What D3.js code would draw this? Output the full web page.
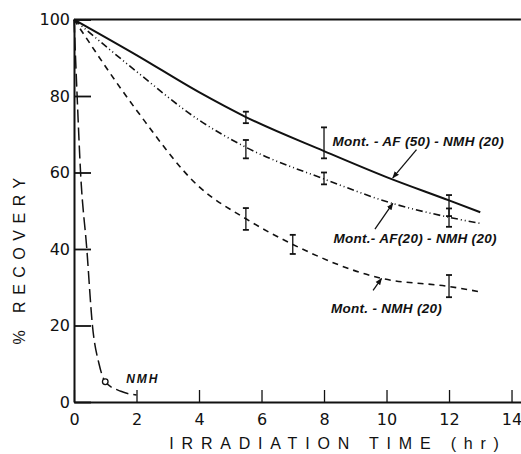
<!DOCTYPE html>
<html><head><meta charset="utf-8">
<script src="https://cdn.jsdelivr.net/npm/d3@7/dist/d3.min.js"></script>
<style>
html,body{margin:0;padding:0;background:#fff;}
svg{display:block;}
text{font-family:"Liberation Sans","DejaVu Sans",Arial,sans-serif;fill:#111;}
</style></head>
<body>
<svg id="chart" width="521" height="454"></svg>
<script>
// ---- data ----
const xTicks = [0, 2, 4, 6, 8, 10, 12, 14];
const yTicks = [0, 20, 40, 60, 80, 100];
const seriesNames = ["Mont.-AF(50)-NMH(20)", "Mont.-AF(20)-NMH(20)", "Mont.-NMH(20)", "NMH"];
const af50Time = [0, 2, 4, 5.5, 8, 10, 12, 13];
const af50Value = [100, 90.7, 81, 74.5, 65.6, 58.8, 52.7, 49.6];
const af20Time = [0, 2, 4, 5.5, 8, 10.2, 12, 13];
const af20Value = [100, 86.4, 73.7, 66.6, 58.3, 51.9, 48.3, 46.7];
const montTime = [0, 2, 4, 5.5, 7, 9.8, 12, 13];
const montValue = [100, 76.3, 56.3, 47.9, 41.2, 32.4, 30.2, 28.8];
const nmhTime = [0, 0.1, 0.21, 0.41, 0.59, 0.8, 1, 1.5, 2];
const nmhValue = [100, 80, 60, 40, 20, 10, 5.3, 2.8, 1.8];
// error bars: [time, low, high]
const af50Err = [[5.5, 72.9, 75.9], [8, 63.7, 71.8], [12, 48.6, 54.1]];
const af20Err = [[5.5, 63.7, 68.5], [8, 56.9, 60.0], [12, 45.8, 50.6]];
const montErr = [[5.5, 45.0, 50.7], [7, 38.7, 43.7], [12, 27.4, 33.2]];
const nmhPoint = [1, 5.3];

// ---- layout ----
const svg = d3.select("#chart");
const x = d3.scaleLinear().domain([0, 14.3]).range([74, 520.9]);
const y = d3.scaleLinear().domain([0, 100]).range([402, 19.5]);

// axes
const xAxis = d3.axisBottom(x).tickValues(xTicks).tickSizeInner(-12).tickSizeOuter(0).tickPadding(12);
const gx = svg.append("g").attr("transform", `translate(0,${y(0)})`).call(xAxis);
gx.select(".domain").attr("stroke", "#111").attr("stroke-width", 2);
gx.selectAll(".tick line").attr("stroke", "#111").attr("stroke-width", 1.3);
gx.selectAll(".tick text").style("font-size", "16px").style("font-family", "'DejaVu Sans',sans-serif").attr("fill", "#111");

const yAxis = d3.axisLeft(y).tickValues(yTicks).tickSizeInner(-17).tickSizeOuter(0).tickPadding(4);
const gy = svg.append("g").attr("transform", `translate(${x(0)},0)`).call(yAxis);
gy.select(".domain").attr("stroke", "#111").attr("stroke-width", 2);
gy.selectAll(".tick line").attr("stroke", "#111").attr("stroke-width", 1.8);
gy.selectAll(".tick text").style("font-size", "16px").style("font-family", "'DejaVu Sans',sans-serif").attr("fill", "#111");

// top 100% line
svg.append("line").attr("x1", x(0)).attr("x2", x(14.3)).attr("y1", y(100)).attr("y2", y(100))
  .attr("stroke", "#111").attr("stroke-width", 2.2);

// titles
svg.append("text").attr("x", 338).attr("y", 449).attr("text-anchor", "middle")
  .style("font-size", "16px").style("letter-spacing", "7.8px").text("IRRADIATION TIME (hr)");
svg.append("text").attr("transform", "translate(25,258) rotate(-90)").attr("text-anchor", "middle")
  .style("font-size", "16px").style("letter-spacing", "6.5px").text("% RECOVERY");

// curves
const line = d3.line().x(d => x(d[0])).y(d => y(d[1])).curve(d3.curveMonotoneX);
const zip = (a, b) => a.map((v, i) => [v, b[i]]);
const curves = [
  {t: af50Time, v: af50Value, dash: null, w: 2},
  {t: af20Time, v: af20Value, dash: "7,3,1,3,1,3", w: 1.6},
  {t: montTime, v: montValue, dash: "6,5", w: 1.6},
  {t: nmhTime, v: nmhValue, dash: "13,5", w: 1.5}
];
curves.forEach(c => {
  svg.append("path").attr("d", line(zip(c.t, c.v))).attr("fill", "none")
    .attr("stroke", "#111").attr("stroke-width", c.w)
    .attr("stroke-dasharray", c.dash);
});

// error bars
[af50Err, af20Err, montErr].forEach(errs => {
  errs.forEach(e => {
    const g = svg.append("g").attr("stroke", "#111").attr("stroke-width", 1.3);
    g.append("line").attr("x1", x(e[0])).attr("x2", x(e[0])).attr("y1", y(e[1])).attr("y2", y(e[2]));
    [e[1], e[2]].forEach(v => g.append("line").attr("x1", x(e[0]) - 3).attr("x2", x(e[0]) + 3)
      .attr("y1", y(v)).attr("y2", y(v)).attr("stroke-width", 1.8));
  });
});

// NMH open circle
svg.append("circle").attr("cx", x(nmhPoint[0])).attr("cy", y(nmhPoint[1])).attr("r", 2.8)
  .attr("fill", "#fff").attr("stroke", "#111").attr("stroke-width", 1.3);

// arrow marker
svg.append("defs").append("marker").attr("id", "arr").attr("viewBox", "0 0 10 10")
  .attr("refX", 9).attr("refY", 5).attr("markerWidth", 7).attr("markerHeight", 7)
  .attr("markerUnits", "userSpaceOnUse").attr("orient", "auto")
  .append("path").attr("d", "M0,1 L10,5 L0,9 Z").attr("fill", "#111");

// annotations (positions in data units)
const labels = [
  {text: "Mont. - AF (50) - NMH (20)", lx: 8.27, ly: 66.8, from: [10.96, 66.0], to: [10.2, 58.6]},
  {text: "Mont.- AF(20) - NMH (20)", lx: 8.3, ly: 41.6, from: [9.63, 45.2], to: [10.2, 51.9]},
  {text: "Mont. - NMH (20)", lx: 8.22, ly: 23.2, from: [9.57, 29.2], to: [9.84, 32.3]},
  {text: "NMH", lx: 1.67, ly: 4.9, from: null, to: null}
];
labels.forEach(l => {
  svg.append("text").attr("x", x(l.lx)).attr("y", y(l.ly))
    .style("font-size", l.text === "NMH" ? "12px" : "13.5px").style("font-style", "italic").style("font-weight", "bold")
    .style("letter-spacing", l.text === "NMH" ? "2px" : "0.3px").text(l.text);
  if (l.from) {
    svg.append("line").attr("x1", x(l.from[0])).attr("y1", y(l.from[1]))
      .attr("x2", x(l.to[0])).attr("y2", y(l.to[1]))
      .attr("stroke", "#111").attr("stroke-width", 1.3).attr("marker-end", "url(#arr)");
  }
});
</script>
</body></html>
